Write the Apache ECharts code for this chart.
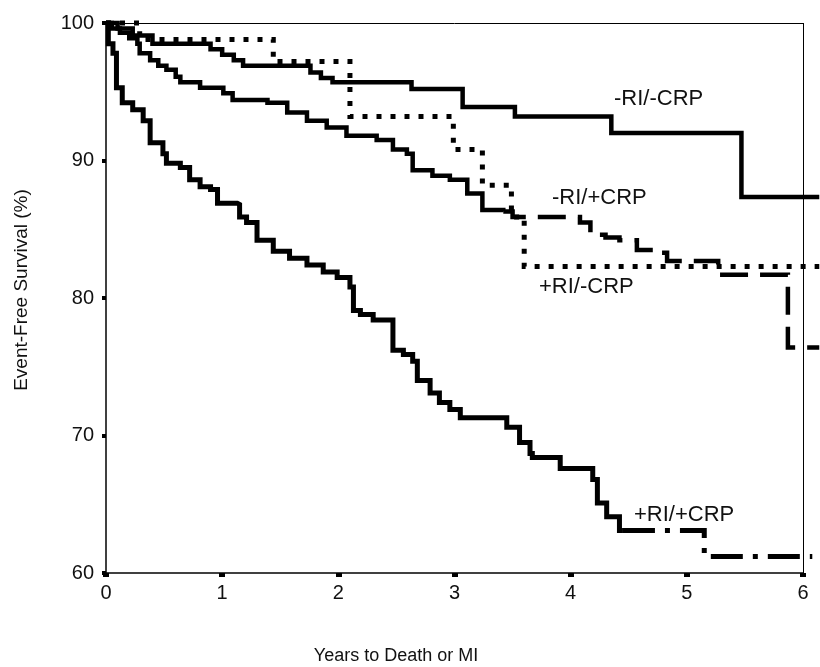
<!DOCTYPE html>
<html>
<head>
<meta charset="utf-8">
<script src="https://cdn.jsdelivr.net/npm/echarts@6/dist/echarts.min.js"></script>
<style>html,body{margin:0;padding:0;background:#fff}#c{width:820px;height:667px}</style>
</head>
<body>
<div id="c"></div>
<script>
// Years (x ticks) and survival (y ticks)
const xTicks = [0, 1, 2, 3, 4, 5, 6];
const yTicks = [60, 70, 80, 90, 100];
const xEnd = 6.14; // curves run slightly past the frame

// -RI/-CRP (solid)
const negRInegCRP = [[0,100],[0.1,99.6],[0.23,99.1],[0.4,98.5],[0.9,98.1],[1.0,97.7],[1.1,97.3],[1.18,96.9],[1.76,96.4],[1.85,96.0],[1.95,95.7],[2.63,95.2],[3.07,93.9],[3.52,93.2],[4.35,92.0],[5.47,87.35],[6.14,87.35]];
// -RI/+CRP (solid part, then dashed part)
const negRIposCRP_solid = [[0,100],[0.05,99.6],[0.12,99.3],[0.2,98.9],[0.27,98.5],[0.29,97.8],[0.38,97.3],[0.45,96.9],[0.52,96.6],[0.6,96.1],[0.64,95.7],[0.81,95.3],[1.01,94.9],[1.09,94.4],[1.39,94.2],[1.56,93.5],[1.73,92.9],[1.9,92.4],[2.07,91.8],[2.33,91.5],[2.47,90.8],[2.59,90.5],[2.64,89.3],[2.81,88.9],[2.96,88.6],[3.11,87.6],[3.24,86.4],[3.42,86.3]];
const negRIposCRP_dashed = [[3.42,86.3],[3.5,85.9],[4.08,85.5],[4.17,84.6],[4.3,84.4],[4.42,84.2],[4.57,83.5],[4.71,83.3],[4.83,82.7],[5.27,81.7],[5.87,76.4],[6.14,76.4]];
// +RI/-CRP (dotted)
const posRInegCRP = [[0,100],[0.29,98.8],[1.44,97.2],[2.1,93.2],[2.99,90.8],[3.24,88.2],[3.49,85.9],[3.6,82.3],[6.14,82.3]];
// +RI/+CRP (solid part, then dash-dot part)
const posRIposCRP_solid = [[0,100],[0.02,98.5],[0.06,97.8],[0.09,95.3],[0.14,94.2],[0.23,93.7],[0.32,92.9],[0.38,91.3],[0.49,90.5],[0.52,89.8],[0.64,89.5],[0.72,88.6],[0.81,88.1],[0.9,87.9],[0.96,86.9],[1.13,86.8],[1.15,85.9],[1.21,85.5],[1.3,84.2],[1.44,83.4],[1.58,82.9],[1.73,82.4],[1.87,81.9],[1.99,81.5],[2.1,80.8],[2.13,79.1],[2.19,78.8],[2.3,78.4],[2.47,76.2],[2.56,75.9],[2.64,75.4],[2.68,74.0],[2.79,73.1],[2.87,72.4],[2.96,71.9],[3.05,71.3],[3.45,70.6],[3.56,69.5],[3.65,68.7],[3.67,68.4],[3.91,67.6],[4.19,66.8],[4.23,65.1],[4.31,64.1],[4.42,63.1],[4.45,63.1]];
const posRIposCRP_dashed = [[4.45,63.1],[5.15,61.2],[6.08,61.2]];

// Curve labels
const labels = [
  {text: '-RI/-CRP', x: 614, y: 88},
  {text: '-RI/+CRP', x: 552, y: 187},
  {text: '+RI/-CRP', x: 539, y: 276},
  {text: '+RI/+CRP', x: 634, y: 504}
];

const FONT = '"Liberation Sans", Arial, sans-serif';
const chart = echarts.init(document.getElementById('c'), null, {renderer: 'canvas'});

function line(data, type, width) {
  return {
    type: 'line', data: data, step: 'end', symbol: 'none', clip: false,
    silent: true, animation: false,
    lineStyle: {color: '#000', width: width, type: type, cap: 'butt', join: 'miter'}
  };
}

const xMin = xTicks[0], xMax = xTicks[xTicks.length - 1];
const yMin = yTicks[0], yMax = yTicks[yTicks.length - 1];
const frame = {
  silent: true, symbol: 'none', label: {show: false}, animation: false,
  data: [
    [{coord: [xMin, yMin], lineStyle: {width: 1.5, type: 'solid', color: '#000'}}, {coord: [xMax, yMin]}],
    [{coord: [xMin, yMax], lineStyle: {width: 1, type: 'solid', color: '#000'}}, {coord: [xMax, yMax]}],
    [{coord: [xMax, yMin], lineStyle: {width: 1, type: 'solid', color: '#000'}}, {coord: [xMax, yMax]}]
  ]
};

const plotW = 697; // pixels for 0..6
const gridLeft = 106;
const gridRight = 820 - (gridLeft + plotW * xEnd / xMax);

const s0 = line(negRInegCRP, 'solid', 4.5);
s0.markLine = frame;

chart.setOption({
  animation: false,
  backgroundColor: '#fff',
  grid: {left: gridLeft, top: 23, right: gridRight, bottom: 94, show: false},
  xAxis: {
    type: 'value', min: xMin, max: xEnd,
    axisLine: {show: false},
    axisTick: {show: true, length: 4, customValues: xTicks, lineStyle: {color: '#000', width: 6}},
    axisLabel: {color: '#111', fontFamily: FONT, fontSize: 20, margin: 10, customValues: xTicks, formatter: v => String(v)},
    splitLine: {show: false}
  },
  yAxis: {
    type: 'value', min: yMin, max: yMax, interval: 10,
    axisLine: {show: true, onZero: false, lineStyle: {color: '#000', width: 1.5}},
    axisTick: {show: true, length: 4, lineStyle: {color: '#000', width: 4}},
    axisLabel: {color: '#111', fontFamily: FONT, fontSize: 20, margin: 12, formatter: v => yTicks.includes(v) ? String(v) : ''},
    splitLine: {show: false}
  },
  graphic: [
    {type: 'text', x: 396, y: 656, style: {text: 'Years to Death or MI', font: '18px ' + FONT, fill: '#111', textAlign: 'center', textVerticalAlign: 'middle'}},
    {type: 'text', x: 22, y: 290, rotation: Math.PI / 2, style: {text: 'Event-Free Survival (%)', font: '19px ' + FONT, fill: '#111', textAlign: 'center', textVerticalAlign: 'middle'}}
  ].concat(labels.map(l => ({type: 'text', x: l.x, y: l.y, style: {text: l.text, font: '22px ' + FONT, fill: '#111', textAlign: 'left', textVerticalAlign: 'top'}}))),
  series: [
    s0,
    line(negRIposCRP_solid, 'solid', 4.5),
    line(negRIposCRP_dashed, [28, 12], 4.5),
    line(posRInegCRP, [5, 9], 5),
    line(posRIposCRP_solid, 'solid', 5),
    line(posRIposCRP_dashed, [32, 10, 5, 10], 5)
  ]
});
</script>
</body>
</html>
